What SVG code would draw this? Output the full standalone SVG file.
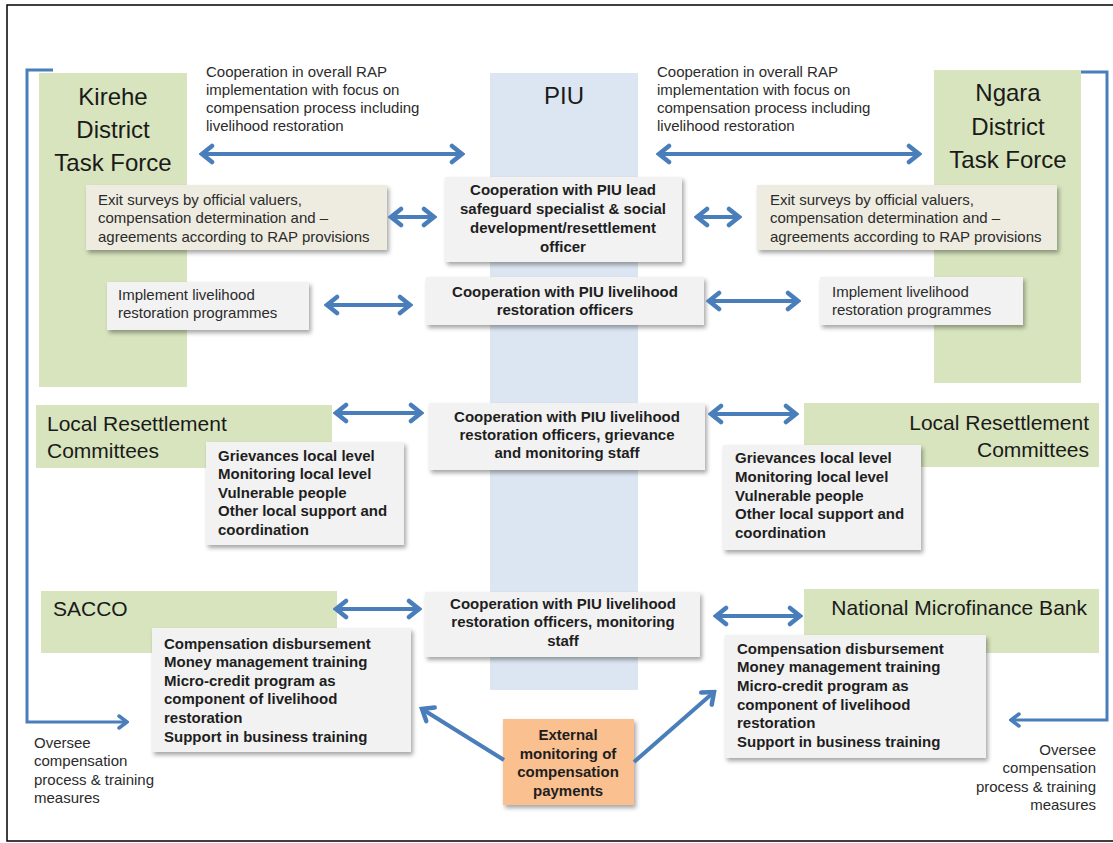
<svg xmlns="http://www.w3.org/2000/svg" width="1113" height="843" viewBox="0 0 1113 843">
  <defs>
    <style>
      .green { fill: #d7e4bd; }
      .piu { fill: #dce6f2; }
      .box { fill: #f2f2f2; filter: url(#shadow); }
      .tan { fill: #eeece1; filter: url(#shadow); }
      .ext { fill: #fac090; filter: url(#shadow); }
      .title { font-family: "Liberation Sans", Arial, sans-serif; font-size: 24px; fill: #1a1a1a; }
      .head { font-family: "Liberation Sans", Arial, sans-serif; font-size: 21px; fill: #1a1a1a; }
      .txt { font-family: "Liberation Sans", Arial, sans-serif; font-size: 15px; fill: #2b2b2b; }
      .bold { font-family: "Liberation Sans", Arial, sans-serif; font-size: 15px; font-weight: bold; fill: #1e1e1e; }
      .mid { text-anchor: middle; }
      .end { text-anchor: end; }
      .arrow { fill: none; stroke: #4a7ebb; stroke-width: 4; }
      .bracket { fill: none; stroke: #4a7ebb; stroke-width: 3; }
    </style>
    <filter id="shadow" x="-10%" y="-10%" width="125%" height="130%">
      <feDropShadow dx="2" dy="3" stdDeviation="2" flood-color="#000" flood-opacity="0.35"/>
    </filter>
    <marker id="head" markerUnits="userSpaceOnUse" viewBox="-14 -11 17 22" markerWidth="17" markerHeight="22" refX="0" refY="0" orient="auto-start-reverse">
      <path d="M-10,-8 L0,0 L-10,8" fill="none" stroke="#4a7ebb" stroke-width="4.5" stroke-linecap="round"/>
    </marker>
    <marker id="headSmall" markerUnits="userSpaceOnUse" viewBox="-12 -9 14 18" markerWidth="14" markerHeight="18" refX="0" refY="0" orient="auto-start-reverse">
      <path d="M-8,-6 L0,0 L-8,6" fill="none" stroke="#4a7ebb" stroke-width="3.5" stroke-linecap="round"/>
    </marker>
  </defs>

  <rect x="0" y="0" width="1113" height="843" fill="#ffffff"/>
  <!-- page frame -->
  <rect x="7" y="5" width="1130" height="836" fill="none" stroke="#000" stroke-width="1.5"/>

  <!-- background columns -->
  <g id="piu">
    <rect class="piu" x="490" y="73" width="148" height="617"/>
    <text class="title mid" x="564" y="104">PIU</text>
  </g>
  <g id="kirehe-task-force">
    <rect class="green" x="39" y="73" width="148" height="314"/>
    <text class="title mid" x="113" y="105">Kirehe</text>
    <text class="title mid" x="113" y="138">District</text>
    <text class="title mid" x="113" y="171">Task Force</text>
  </g>
  <g id="ngara-task-force">
    <rect class="green" x="934" y="70" width="147" height="313"/>
    <text class="title mid" x="1008" y="101">Ngara</text>
    <text class="title mid" x="1008" y="135">District</text>
    <text class="title mid" x="1008" y="168">Task Force</text>
  </g>

  <!-- top annotations -->
  <g id="note-left">
    <text class="txt" x="206" y="77">Cooperation in overall RAP</text>
    <text class="txt" x="206" y="95">implementation with focus on</text>
    <text class="txt" x="206" y="113">compensation process including</text>
    <text class="txt" x="206" y="131">livelihood restoration</text>
  </g>
  <g id="note-right">
    <text class="txt" x="657" y="77">Cooperation in overall RAP</text>
    <text class="txt" x="657" y="95">implementation with focus on</text>
    <text class="txt" x="657" y="113">compensation process including</text>
    <text class="txt" x="657" y="131">livelihood restoration</text>
  </g>

  <!-- row 1: exit surveys -->
  <g id="exit-left">
    <rect class="tan" x="86" y="185" width="301" height="65"/>
    <text class="txt" x="98" y="205">Exit surveys by official valuers,</text>
    <text class="txt" x="98" y="223">compensation determination and –</text>
    <text class="txt" x="98" y="242">agreements according to RAP provisions</text>
  </g>
  <g id="piu-lead">
    <rect class="box" x="445" y="177" width="237" height="85"/>
    <text class="bold mid" x="563" y="195">Cooperation with PIU lead</text>
    <text class="bold mid" x="563" y="214">safeguard specialist &amp; social</text>
    <text class="bold mid" x="563" y="233">development/resettlement</text>
    <text class="bold mid" x="563" y="252">officer</text>
  </g>
  <g id="exit-right">
    <rect class="tan" x="757" y="185" width="300" height="65"/>
    <text class="txt" x="770" y="205">Exit surveys by official valuers,</text>
    <text class="txt" x="770" y="223">compensation determination and –</text>
    <text class="txt" x="770" y="242">agreements according to RAP provisions</text>
  </g>

  <!-- row 2: livelihood programmes -->
  <g id="implement-left">
    <rect class="box" x="107" y="282" width="202" height="48"/>
    <text class="txt" x="118" y="300">Implement livelihood</text>
    <text class="txt" x="118" y="318">restoration programmes</text>
  </g>
  <g id="piu-livelihood">
    <rect class="box" x="426" y="277" width="278" height="48"/>
    <text class="bold mid" x="565" y="297">Cooperation with PIU livelihood</text>
    <text class="bold mid" x="565" y="315">restoration officers</text>
  </g>
  <g id="implement-right">
    <rect class="box" x="820" y="277" width="203" height="48"/>
    <text class="txt" x="832" y="297">Implement livelihood</text>
    <text class="txt" x="832" y="315">restoration programmes</text>
  </g>

  <!-- row 3: local resettlement committees -->
  <g id="lrc-left">
    <rect class="green" x="36" y="405" width="296" height="63"/>
    <text class="head" x="47" y="431">Local Resettlement</text>
    <text class="head" x="47" y="458">Committees</text>
  </g>
  <g id="lrc-left-tasks">
    <rect class="box" x="206" y="442" width="198" height="103"/>
    <text class="bold" x="218" y="461">Grievances local level</text>
    <text class="bold" x="218" y="479">Monitoring local level</text>
    <text class="bold" x="218" y="498">Vulnerable people</text>
    <text class="bold" x="218" y="516">Other local support and</text>
    <text class="bold" x="218" y="535">coordination</text>
  </g>
  <g id="piu-grievance">
    <rect class="box" x="429" y="403" width="276" height="67"/>
    <text class="bold mid" x="567" y="422">Cooperation with PIU livelihood</text>
    <text class="bold mid" x="567" y="440">restoration officers, grievance</text>
    <text class="bold mid" x="567" y="458">and monitoring staff</text>
  </g>
  <g id="lrc-right">
    <rect class="green" x="804" y="403" width="295" height="64"/>
    <text class="head end" x="1089" y="430">Local Resettlement</text>
    <text class="head end" x="1089" y="457">Committees</text>
  </g>
  <g id="lrc-right-tasks">
    <rect class="box" x="723" y="445" width="198" height="105"/>
    <text class="bold" x="735" y="463">Grievances local level</text>
    <text class="bold" x="735" y="482">Monitoring local level</text>
    <text class="bold" x="735" y="501">Vulnerable people</text>
    <text class="bold" x="735" y="519">Other local support and</text>
    <text class="bold" x="735" y="538">coordination</text>
  </g>

  <!-- row 4: financial institutions -->
  <g id="sacco">
    <rect class="green" x="41" y="591" width="296" height="62"/>
    <text class="head" x="53" y="616">SACCO</text>
  </g>
  <g id="sacco-tasks">
    <rect class="box" x="152" y="628" width="259" height="124"/>
    <text class="bold" x="164" y="649">Compensation disbursement</text>
    <text class="bold" x="164" y="667">Money management training</text>
    <text class="bold" x="164" y="686">Micro-credit program as</text>
    <text class="bold" x="164" y="704">component of livelihood</text>
    <text class="bold" x="164" y="723">restoration</text>
    <text class="bold" x="164" y="742">Support in business training</text>
  </g>
  <g id="piu-monitoring">
    <rect class="box" x="425" y="592" width="275" height="65"/>
    <text class="bold mid" x="563" y="609">Cooperation with PIU livelihood</text>
    <text class="bold mid" x="563" y="627">restoration officers, monitoring</text>
    <text class="bold mid" x="563" y="646">staff</text>
  </g>
  <g id="nmb">
    <rect class="green" x="804" y="589" width="295" height="64"/>
    <text class="head end" x="1087" y="615">National Microfinance Bank</text>
  </g>
  <g id="nmb-tasks">
    <rect class="box" x="725" y="635" width="261" height="123"/>
    <text class="bold" x="737" y="654">Compensation disbursement</text>
    <text class="bold" x="737" y="672">Money management training</text>
    <text class="bold" x="737" y="691">Micro-credit program as</text>
    <text class="bold" x="737" y="710">component of livelihood</text>
    <text class="bold" x="737" y="728">restoration</text>
    <text class="bold" x="737" y="747">Support in business training</text>
  </g>
  <g id="external-monitoring">
    <rect class="ext" x="503" y="719" width="131" height="86"/>
    <text class="bold mid" x="568" y="740">External</text>
    <text class="bold mid" x="568" y="759">monitoring of</text>
    <text class="bold mid" x="568" y="777">compensation</text>
    <text class="bold mid" x="568" y="796">payments</text>
  </g>

  <!-- oversight notes -->
  <g id="oversee-left">
    <text class="txt" x="34" y="748">Oversee</text>
    <text class="txt" x="34" y="766">compensation</text>
    <text class="txt" x="34" y="785">process &amp; training</text>
    <text class="txt" x="34" y="803">measures</text>
  </g>
  <g id="oversee-right">
    <text class="txt end" x="1096" y="755">Oversee</text>
    <text class="txt end" x="1096" y="773">compensation</text>
    <text class="txt end" x="1096" y="792">process &amp; training</text>
    <text class="txt end" x="1096" y="810">measures</text>
  </g>

  <!-- connectors -->
  <g id="connectors">
    <line class="arrow" x1="202" y1="154" x2="462" y2="154" marker-start="url(#head)" marker-end="url(#head)"/>
    <line class="arrow" x1="659" y1="154" x2="919" y2="154" marker-start="url(#head)" marker-end="url(#head)"/>
    <line class="arrow" x1="391" y1="217" x2="434" y2="217" marker-start="url(#head)" marker-end="url(#head)"/>
    <line class="arrow" x1="697" y1="217" x2="739" y2="217" marker-start="url(#head)" marker-end="url(#head)"/>
    <line class="arrow" x1="327" y1="305" x2="410" y2="305" marker-start="url(#head)" marker-end="url(#head)"/>
    <line class="arrow" x1="709" y1="301" x2="798" y2="301" marker-start="url(#head)" marker-end="url(#head)"/>
    <line class="arrow" x1="336" y1="413" x2="421" y2="413" marker-start="url(#head)" marker-end="url(#head)"/>
    <line class="arrow" x1="711" y1="414" x2="796" y2="414" marker-start="url(#head)" marker-end="url(#head)"/>
    <line class="arrow" x1="336" y1="609" x2="419" y2="609" marker-start="url(#head)" marker-end="url(#head)"/>
    <line class="arrow" x1="716" y1="616" x2="800" y2="616" marker-start="url(#head)" marker-end="url(#head)"/>
    <line class="arrow" x1="504" y1="760" x2="422" y2="709" marker-end="url(#head)"/>
    <line class="arrow" x1="634" y1="762" x2="714" y2="692" marker-end="url(#head)"/>
    <polyline class="bracket" points="53,70 27,70 27,722 127,722" marker-end="url(#headSmall)"/>
    <polyline class="bracket" points="1081,72 1107,72 1107,720 1011,720" marker-end="url(#headSmall)"/>
  </g>
</svg>
